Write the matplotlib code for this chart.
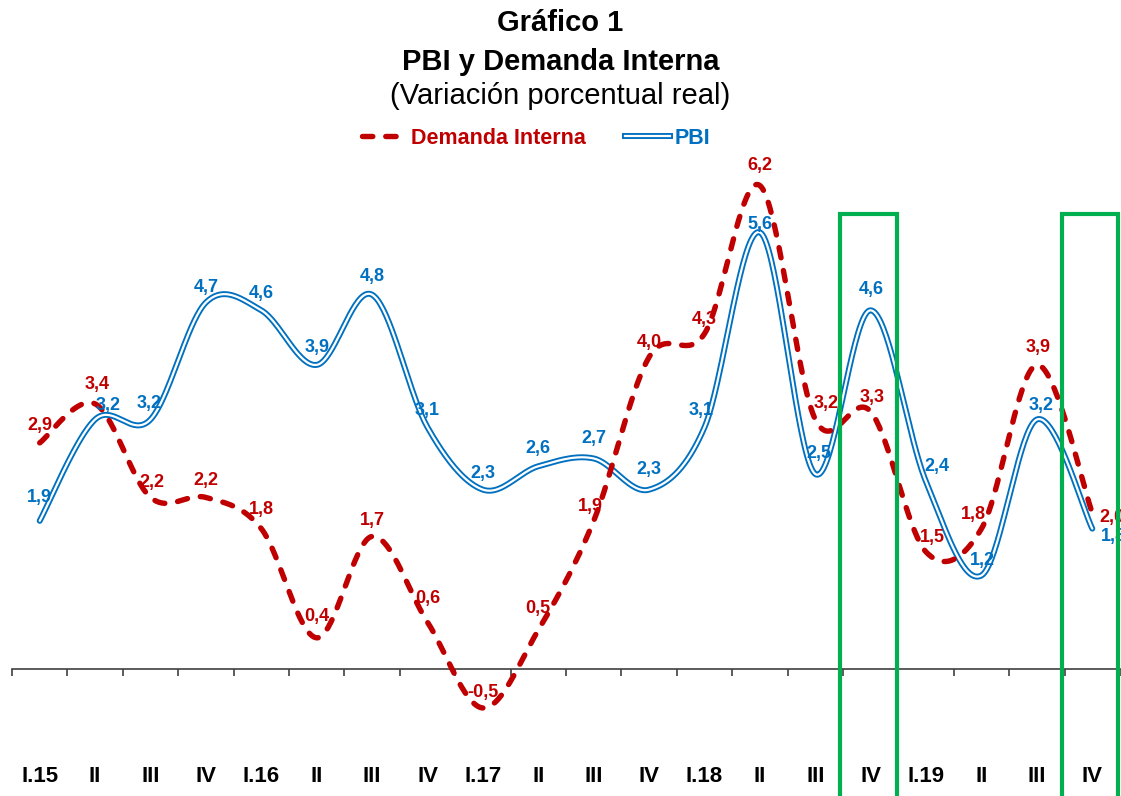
import numpy as np
import matplotlib
matplotlib.use("Agg")
import matplotlib.pyplot as plt
from matplotlib.lines import Line2D
from matplotlib.patches import Rectangle

plt.rcParams['font.family'] = ['Liberation Sans', 'DejaVu Sans']

# datos
trimestres = ["I.15", "II", "III", "IV", "I.16", "II", "III", "IV", "I.17", "II",
              "III", "IV", "I.18", "II", "III", "IV", "I.19", "II", "III", "IV"]
demanda_interna = [2.9, 3.4, 2.2, 2.2, 1.8, 0.4, 1.7, 0.6, -0.5, 0.5,
                   1.9, 4.0, 4.3, 6.2, 3.2, 3.3, 1.5, 1.8, 3.9, 2.0]
pbi = [1.9, 3.2, 3.2, 4.7, 4.6, 3.9, 4.8, 3.1, 2.3, 2.6,
       2.7, 2.3, 3.1, 5.6, 2.5, 4.6, 2.4, 1.2, 3.2, 1.8]
destacados = [15, 19]  # IV.18 y IV.19

# desplazamiento de las etiquetas (px)
off_di = [(0, 17), (2, 19), (1, 15), (0, 17), (0, 19), (0, 21), (0, 16), (0, 24), (0, 15), (0, 22),
          (-3, 14), (0, 15), (0, 14), (0, 20), (11, 16), (1, 14), (6, 15), (-8, 14), (1, 17), (20, -4)]
off_pbi = [(0, 23), (13, 14), (-1, 16), (0, 15), (0, 17), (0, 17), (0, 18), (0, 17), (0, 16), (0, 18),
           (0, 20), (0, 20), (-3, 17), (0, 8), (4, 21), (1, 21), (11, 15), (1, 15), (4, 14), (21, -8)]

ROJO = "#C00000"
AZUL = "#0070C0"
VERDE = "#00B050"


def suavizar(xs, ys, n=40):
    # curva suavizada tipo Excel (bezier / catmull-rom)
    p = np.column_stack([xs, ys]).astype(float)
    p = np.vstack([p[0], p, p[-1]])
    t = np.linspace(0, 1, n)[:, None]
    tramos = []
    for i in range(1, len(p) - 2):
        p0, p1, p2, p3 = p[i - 1], p[i], p[i + 1], p[i + 2]
        c1 = p1 + (p2 - p0) / 6
        c2 = p2 - (p3 - p1) / 6
        seg = (1 - t) ** 3 * p1 + 3 * (1 - t) ** 2 * t * c1 + 3 * (1 - t) * t ** 2 * c2 + t ** 3 * p2
        tramos.append(seg if i == 1 else seg[1:])
    return np.vstack(tramos)


fig = plt.figure(figsize=(11.21, 7.96), dpi=100)
ax = fig.add_axes([12 / 1121, 0.0616, 1108 / 1121, 0.7445])
x = np.arange(len(trimestres))

c_pbi = suavizar(x, pbi)
ax.plot(c_pbi[:, 0], c_pbi[:, 1], color=AZUL, lw=4.3, solid_capstyle='round', zorder=3)
ax.plot(c_pbi[:, 0], c_pbi[:, 1], color="white", lw=1.6, solid_capstyle='round', zorder=4)

c_di = suavizar(x, demanda_interna)
ax.plot(c_di[:, 0], c_di[:, 1], color=ROJO, lw=3.9, dashes=(1.9, 2.4),
        dash_capstyle='round', zorder=5)

for i, v in enumerate(demanda_interna):
    dx, dy = off_di[i]
    ax.annotate(f"{v:.1f}".replace(".", ","), (i, v), xytext=(dx * 0.72, dy * 0.72),
                textcoords='offset points', ha='center', va='center',
                color=ROJO, fontsize=13, fontweight='bold', zorder=6, annotation_clip=False)
for i, v in enumerate(pbi):
    dx, dy = off_pbi[i]
    ax.annotate(f"{v:.1f}".replace(".", ","), (i, v), xytext=(dx * 0.72, dy * 0.72),
                textcoords='offset points', ha='center', va='center',
                color=AZUL, fontsize=13, fontweight='bold', zorder=6, annotation_clip=False)

for i in destacados:
    ax.add_patch(Rectangle((i - 0.55, -2.5), 1.02, 5.83 + 2.5, fill=False,
                           edgecolor=VERDE, lw=3, clip_on=False, zorder=7))

ax.set_xlim(-0.5, len(trimestres) - 0.5)
ax.set_ylim(-1.0, 6.6)
for s in ['left', 'right', 'top']:
    ax.spines[s].set_visible(False)
ax.spines['bottom'].set_position(('data', 0))
ax.spines['bottom'].set_color("#404040")
ax.spines['bottom'].set_linewidth(1.2)
ax.set_yticks([])
ax.set_xticks(x)
ax.set_xticklabels(trimestres, fontsize=16, fontweight='bold')
ax.tick_params(axis='x', which='major', length=0, pad=70)
ax.set_xticks(np.arange(-0.5, len(trimestres)), minor=True)
ax.tick_params(axis='x', which='minor', length=5, width=1.2, color="#404040", direction='out')

fig.text(0.5, 1 - 23 / 796, "Gráfico 1", ha='center', va='center', fontsize=21, fontweight='bold')
fig.text(0.5, 1 - 62 / 796, "PBI y Demanda Interna", ha='center', va='center', fontsize=21, fontweight='bold')
fig.text(0.5, 1 - 96 / 796, "(Variación porcentual real)", ha='center', va='center', fontsize=21)

h_di = Line2D([], [], color=ROJO, lw=3.9, dashes=(1.9, 2.4), dash_capstyle='round')
h_b = Line2D([], [], color=AZUL, lw=4.3)
h_w = Line2D([], [], color="white", lw=1.6)
leg = fig.legend([h_di, (h_b, h_w)], ["Demanda Interna", "PBI"], loc='center',
                 bbox_to_anchor=(536 / 1121, 1 - 138 / 796), ncol=2, frameon=False,
                 prop={'size': 15.5, 'weight': 'bold'}, handlelength=2.1,
                 handletextpad=0.2, columnspacing=1.8)
for txt, col in zip(leg.get_texts(), [ROJO, AZUL]):
    txt.set_color(col)

fig.savefig("out.png", dpi=100)
